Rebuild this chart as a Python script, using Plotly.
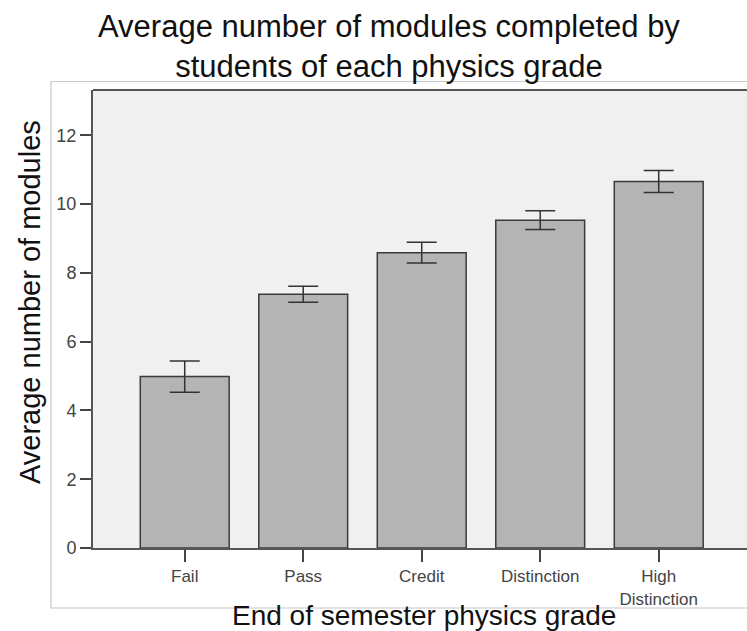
import plotly.graph_objects as go

categories = ["Fail", "Pass", "Credit", "Distinction", "High<br>Distinction"]
means = [4.99, 7.38, 8.59, 9.53, 10.66]
err_plus = [0.45, 0.23, 0.30, 0.28, 0.32]
err_minus = [0.46, 0.23, 0.30, 0.27, 0.32]
y_ticks = [0, 2, 4, 6, 8, 10, 12]

W, H = 747, 631
L, T, B, R = 93, 90, 83, 0
pw = W - L - R
ph = H - T - B


def px_x(p):
    return (p - L) / pw


def px_y(p):
    return ((H - p) - B) / ph


font = "Liberation Sans, Arial, sans-serif"

fig = go.Figure()
fig.add_trace(go.Bar(
    x=list(range(len(categories))),
    y=means,
    width=0.75,
    marker=dict(color="#b4b4b4", line=dict(color="#3a3a3a", width=1.5)),
    error_y=dict(type="data", array=err_plus, arrayminus=err_minus,
                 color="#333333", thickness=1.5, width=15, visible=True),
    hoverinfo="skip",
))

# outer light frame
fig.add_shape(type="rect", xref="paper", yref="paper",
              x0=px_x(51), x1=px_x(760), y0=px_y(608), y1=px_y(81.5),
              line=dict(color="#c8c8c8", width=1.2), fillcolor="rgba(0,0,0,0)",
              layer="below")
# top border of plot area
fig.add_shape(type="line", xref="paper", yref="paper", x0=0, x1=1, y0=1, y1=1,
              line=dict(color="#555555", width=2))

fig.add_annotation(text="Average number of modules completed by<br>students of each physics grade",
                   xref="paper", yref="paper", x=px_x(389), y=px_y(47),
                   xanchor="center", yanchor="middle", showarrow=False,
                   font=dict(family=font, size=31, color="#111111"))
fig.add_annotation(text="End of semester physics grade",
                   xref="paper", yref="paper", x=px_x(424), y=px_y(615),
                   xanchor="center", yanchor="middle", showarrow=False,
                   font=dict(family=font, size=28, color="#111111"))
fig.add_annotation(text="Average number of modules", textangle=-90,
                   xref="paper", yref="paper", x=px_x(30), y=px_y(302),
                   xanchor="center", yanchor="middle", showarrow=False,
                   font=dict(family=font, size=29, color="#111111"))

fig.update_layout(
    width=W, height=H,
    margin=dict(l=L, r=R, t=T, b=B),
    paper_bgcolor="white",
    plot_bgcolor="#f0f0f0",
    showlegend=False,
    xaxis=dict(
        tickmode="array", tickvals=list(range(len(categories))), ticktext=categories,
        range=[-0.774, 4.745],
        showgrid=False, zeroline=False,
        showline=True, linecolor="#555555", linewidth=2, mirror=False,
        ticks="outside", ticklen=12, tickwidth=1.5, tickcolor="#444444",
        tickfont=dict(family=font, size=17, color="#444444"),
    ),
    yaxis=dict(
        range=[0, 13.32],
        tickmode="array", tickvals=y_ticks,
        showgrid=False, zeroline=False,
        showline=True, linecolor="#555555", linewidth=2,
        ticks="outside", ticklen=11, tickwidth=1.5, tickcolor="#444444",
        tickfont=dict(family=font, size=18, color="#444444"),
    ),
)

fig.write_html("out.html", config={"displayModeBar": False},
               post_script="document.body.style.margin='0';document.body.style.overflow='hidden';")
